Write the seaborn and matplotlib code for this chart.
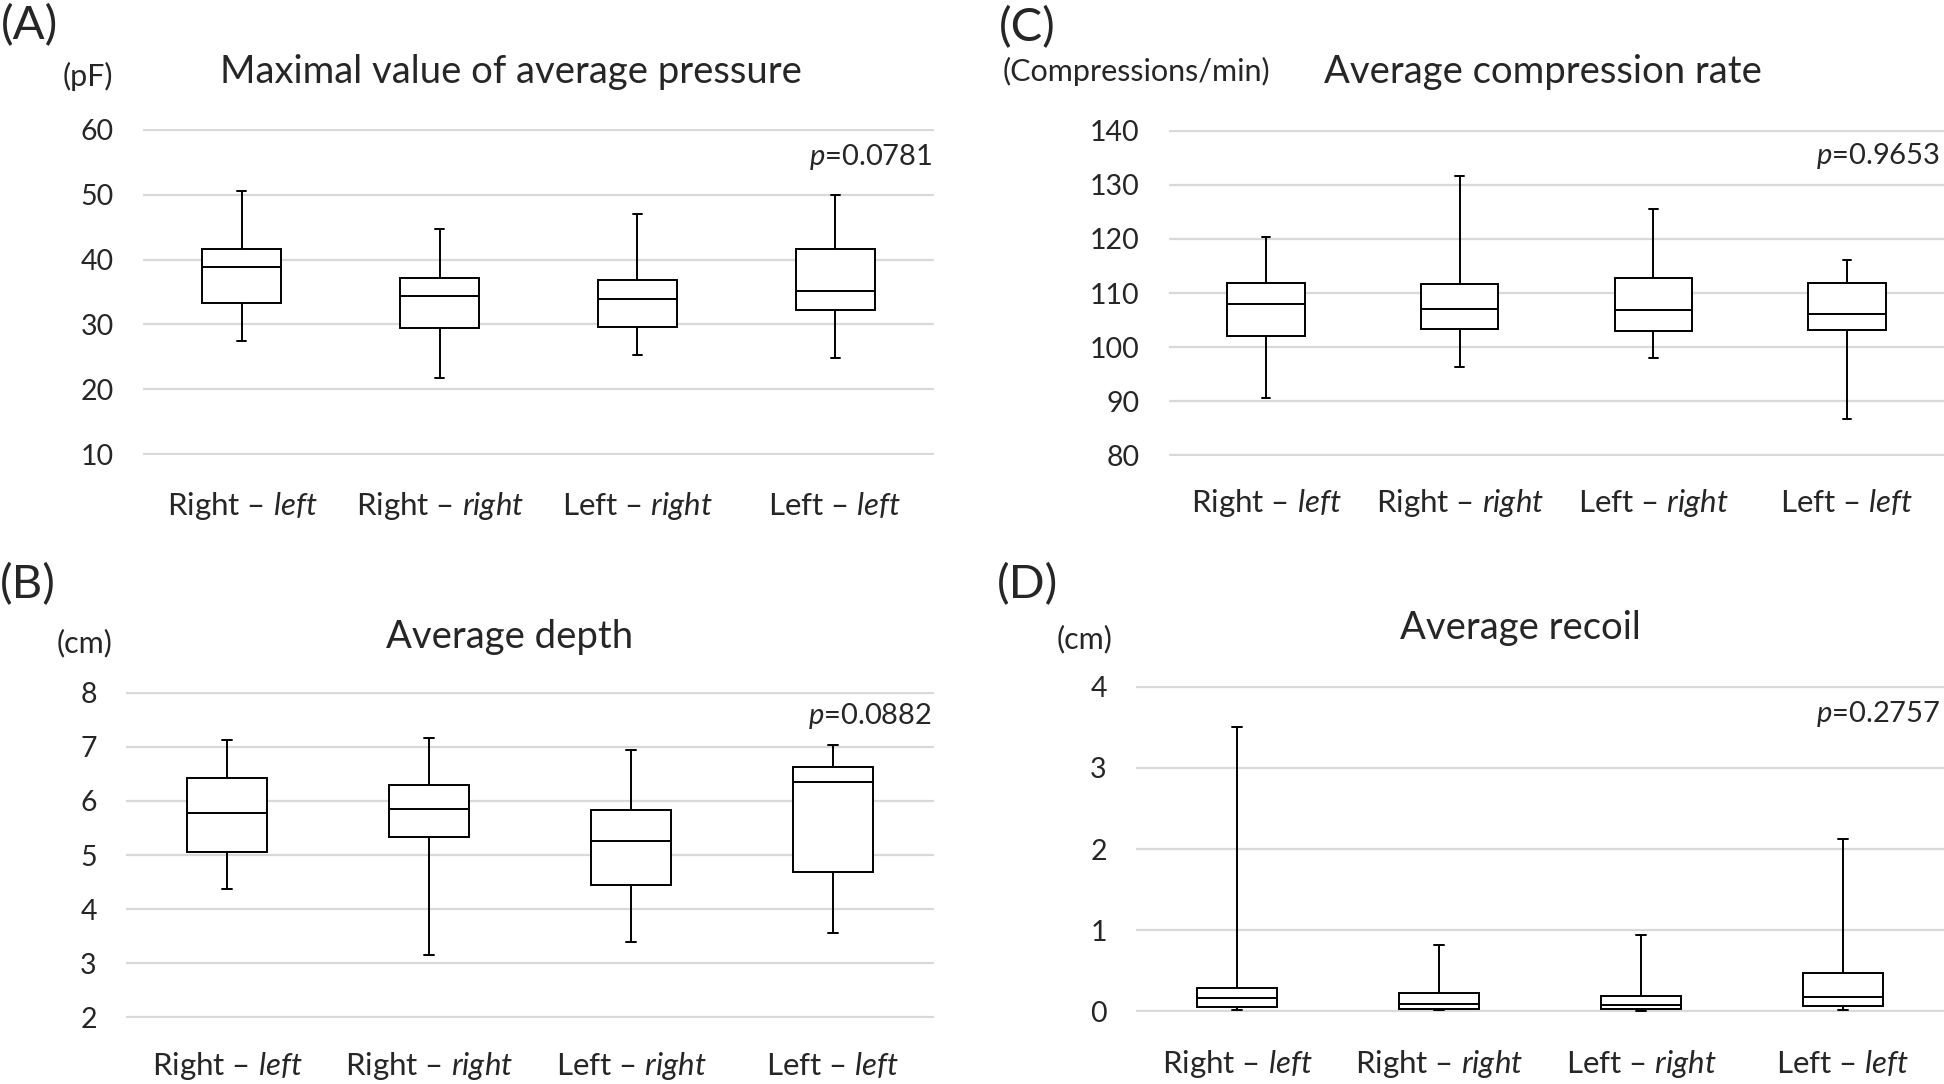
import pandas as pd
import seaborn as sns
import matplotlib
matplotlib.use("Agg")
from matplotlib import pyplot as plt

# group labels (italic part via mathtext)
groups = ["Right – left", "Right – right", "Left – right", "Left – left"]
tick_labels = ["Right – $\\mathit{left}$", "Right – $\\mathit{right}$",
               "Left – $\\mathit{right}$", "Left – $\\mathit{left}$"]

# five-number summaries (min, q1, median, q3, max)
pressure_min = [27.5, 21.7, 25.3, 24.8]
pressure_q1 = [33.3, 29.5, 29.6, 32.2]
pressure_med = [38.9, 34.4, 33.9, 35.2]
pressure_q3 = [41.6, 37.2, 36.8, 41.7]
pressure_max = [50.6, 44.7, 47.0, 50.0]

rate_min = [90.6, 96.3, 97.9, 86.7]
rate_q1 = [102.0, 103.3, 103.0, 103.2]
rate_med = [107.9, 107.1, 106.9, 106.2]
rate_q3 = [111.8, 111.6, 112.8, 111.8]
rate_max = [120.3, 131.7, 125.5, 116.2]

depth_min = [4.37, 3.14, 3.39, 3.55]
depth_q1 = [5.05, 5.33, 4.45, 4.68]
depth_med = [5.77, 5.85, 5.26, 6.36]
depth_q3 = [6.42, 6.30, 5.83, 6.63]
depth_max = [7.13, 7.17, 6.95, 7.04]

recoil_min = [0.01, 0.01, 0.0, 0.01]
recoil_q1 = [0.05, 0.02, 0.02, 0.06]
recoil_med = [0.16, 0.09, 0.08, 0.17]
recoil_q3 = [0.29, 0.22, 0.19, 0.47]
recoil_max = [3.50, 0.81, 0.94, 2.12]

p_values = ["0.0781", "0.0882", "0.9653", "0.2757"]

sns.set_style("white")
plt.rcParams["font.family"] = ["Lato", "DejaVu Sans"]
plt.rcParams["mathtext.fontset"] = "custom"
plt.rcParams["mathtext.rm"] = "Lato"
plt.rcParams["mathtext.it"] = "Lato:italic"

W, H = 1944, 1084
fig = plt.figure(figsize=(W / 100, H / 100), dpi=100)


def long_frame(mins, q1s, meds, q3s, maxs):
    # five points per group -> percentiles 0/25/50/75/100 land exactly on them
    rows = []
    for i, g in enumerate(groups):
        for v in (mins[i], q1s[i], meds[i], q3s[i], maxs[i]):
            rows.append({"group": g, "value": v})
    return pd.DataFrame(rows)


def panel(box, df, ylim, ticks, tickpad_x):
    l, t, r, b = box
    ax = fig.add_axes([l / W, 1 - b / H, (r - l) / W, (b - t) / H])
    sns.boxplot(data=df, x="group", y="value", ax=ax, whis=(0, 100),
                width=0.4, color="white", linecolor="black", linewidth=1.4,
                fliersize=0, capwidths=0.045)
    ax.set_xlim(-0.5, 3.5)
    span = ylim[1] - ylim[0]
    ax.set_ylim(ylim[0] - span * 0.003, ylim[1] + span * 0.003)
    ax.set_yticks(ticks)
    ax.set_xticks(range(4))
    ax.set_xticklabels(tick_labels)
    ax.set_xlabel("")
    ax.set_ylabel("")
    ax.yaxis.grid(True, color="#d9d9d9", linewidth=1.6)
    ax.set_axisbelow(True)
    for s in ax.spines.values():
        s.set_visible(False)
    ax.tick_params(axis="y", length=0, pad=21, labelsize=20.5)
    ax.tick_params(axis="x", length=0, pad=tickpad_x, labelsize=22.5)
    return ax


def txt(x, y, s, size, ha="center"):
    fig.text(x / W, 1 - y / H, s, fontsize=size, ha=ha, va="center")


# (A)
panel((143, 129, 934, 455), long_frame(pressure_min, pressure_q1, pressure_med,
      pressure_q3, pressure_max), (10, 60), range(10, 61, 10), 25)
txt(29, 26, "(A)", 34)
txt(88, 76, "(pF)", 22)
txt(511, 72, "Maximal value of average pressure", 27.5)
txt(932, 157, "$\\mathit{p}$=" + p_values[0], 21, ha="right")

# (B)
panel((126, 692, 934, 1018), long_frame(depth_min, depth_q1, depth_med,
      depth_q3, depth_max), (2, 8), range(2, 9), 23)
txt(28, 585, "(B)", 34)
txt(85, 643, "(cm)", 22)
txt(510, 637, "Average depth", 27.5)
txt(932, 716, "$\\mathit{p}$=" + p_values[1], 21, ha="right")

# (C)
panel((1169, 130, 1944, 456), long_frame(rate_min, rate_q1, rate_med,
      rate_q3, rate_max), (80, 140), range(80, 141, 10), 22)
txt(1027, 28, "(C)", 34)
txt(1136, 71, "(Compressions/min)", 22)
txt(1543, 72, "Average compression rate", 27.5)
txt(1940, 156, "$\\mathit{p}$=" + p_values[2], 21, ha="right")

# (D)
panel((1136, 686, 1944, 1012), long_frame(recoil_min, recoil_q1, recoil_med,
      recoil_q3, recoil_max), (0, 4), range(0, 5), 26)
txt(1027, 585, "(D)", 34)
txt(1085, 639, "(cm)", 22)
txt(1520, 628, "Average recoil", 27.5)
txt(1940, 714, "$\\mathit{p}$=" + p_values[3], 21, ha="right")

fig.savefig("out.png", dpi=100)
